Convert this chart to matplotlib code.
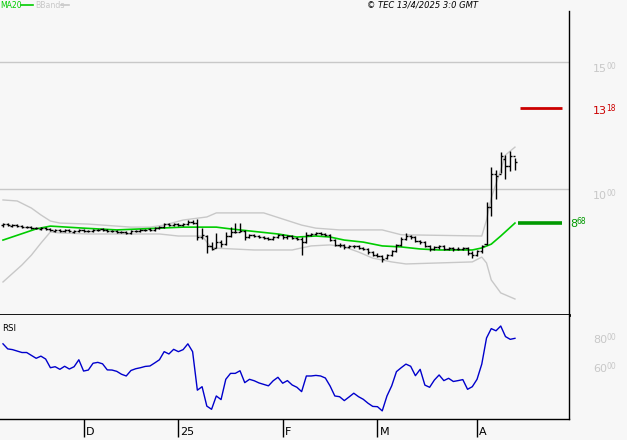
import numpy as np
import matplotlib
matplotlib.use("Agg")
import matplotlib.pyplot as plt
from matplotlib.lines import Line2D

# daily bars (oldest -> newest)
open_ = [858, 864, 856, 860, 856, 852, 850, 848, 844, 848,
         844, 836, 840, 834, 838, 832, 836, 840, 836, 834,
         838, 842, 838, 836, 834, 832, 830, 828, 834, 836,
         838, 842, 840, 846, 852, 862, 858, 864, 860, 864,
         872, 866, 810, 815, 775, 768, 790, 782, 815, 830,
         832, 836, 812, 818, 815, 812, 808, 805, 812, 820,
         810, 815, 808, 805, 790, 820, 822, 826, 824, 820,
         800, 780, 778, 770, 774, 776, 768, 762, 752, 742,
         738, 728, 740, 755, 780, 805, 815, 810, 795, 790,
         775, 762, 770, 775, 765, 768, 762, 765, 766, 750,
         742, 755, 785, 930, 1060, 1060, 1120, 1090, 1130]
high = [868, 868, 864, 864, 860, 856, 854, 852, 852, 852,
        848, 844, 844, 842, 842, 840, 844, 844, 840, 842,
        844, 846, 842, 840, 838, 836, 834, 838, 840, 842,
        844, 846, 850, 856, 866, 866, 868, 868, 868, 878,
        878, 882, 846, 819, 791, 827, 800, 831, 850, 866,
        866, 839, 822, 822, 820, 816, 812, 816, 824, 824,
        820, 820, 812, 810, 830, 826, 830, 832, 828, 824,
        804, 786, 782, 778, 780, 780, 772, 766, 756, 748,
        742, 745, 760, 785, 812, 827, 820, 815, 800, 795,
        780, 775, 780, 780, 772, 772, 770, 770, 770, 755,
        760, 780, 950, 1085, 1075, 1146, 1134, 1150, 1122]
low = [852, 854, 852, 852, 848, 846, 844, 842, 840, 840,
       834, 832, 832, 830, 830, 828, 832, 830, 830, 830,
       834, 834, 830, 830, 828, 826, 824, 824, 830, 832,
       834, 836, 836, 842, 848, 854, 854, 856, 856, 860,
       862, 799, 805, 748, 760, 768, 772, 780, 811, 827,
       831, 799, 808, 810, 808, 804, 800, 800, 808, 804,
       805, 802, 800, 740, 788, 816, 818, 818, 814, 796,
       776, 772, 764, 766, 768, 764, 758, 746, 738, 732,
       713, 724, 736, 752, 775, 800, 805, 790, 785, 770,
       756, 758, 765, 760, 760, 755, 758, 758, 742, 730,
       736, 750, 780, 895, 960, 1063, 1040, 1070, 1075]
close = [862, 858, 860, 856, 852, 850, 848, 846, 848, 844,
         838, 840, 836, 838, 834, 836, 840, 834, 834, 838,
         840, 838, 834, 834, 832, 830, 828, 834, 836, 838,
         840, 840, 846, 852, 862, 858, 864, 860, 864, 872,
         866, 812, 818, 775, 765, 790, 782, 815, 830, 832,
         836, 812, 818, 815, 812, 808, 805, 812, 820, 810,
         815, 808, 805, 790, 820, 822, 826, 824, 820, 800,
         780, 778, 770, 774, 776, 768, 762, 752, 742, 738,
         725, 740, 755, 780, 805, 815, 810, 795, 790, 775,
         762, 770, 775, 765, 768, 762, 765, 766, 750, 742,
         755, 775, 930, 1060, 1050, 1130, 1090, 1130, 1105]

# moving average and bollinger bands, read at these bar numbers
ma_idx = [0, 7, 10, 17, 24, 33, 38, 45, 48, 52, 58, 62, 66, 69, 72, 76,
          80, 84, 88, 92, 99, 101, 103, 105, 108]
ma_vals = [799, 843, 854, 846, 839, 846, 850, 850, 843, 835, 823, 811, 815,
           811, 799, 791, 776, 772, 764, 760, 760, 768, 783, 815, 866]
up_idx = [0, 3, 6, 8, 10, 12, 18, 27, 31, 34, 38, 43, 45, 52, 55, 59, 63,
          66, 71, 80, 84, 101, 102, 103, 105, 106, 108]
up_vals = [957, 953, 925, 898, 874, 866, 862, 850, 850, 858, 878, 890, 906,
           906, 906, 882, 858, 846, 839, 839, 820, 815, 878, 965, 1075, 1134, 1165]
lo_idx = [0, 4, 6, 8, 10, 12, 18, 33, 37, 42, 44, 53, 61, 63, 65, 69, 72,
          75, 78, 82, 85, 99, 101, 102, 103, 105, 108]
lo_vals = [634, 701, 740, 787, 831, 827, 823, 823, 815, 815, 768, 760, 760,
           768, 776, 780, 772, 752, 728, 713, 705, 713, 732, 709, 642, 591, 567]

rsi = [76, 72.5, 72, 71, 70, 70, 68, 66, 67.5, 65.5,
       59.5, 60.2, 58.4, 60.5, 58.6, 60.2, 65, 57.2, 57.9, 62.6,
       63.2, 62.2, 58, 57.9, 57, 55, 53.8, 57.6, 58.8, 59.5,
       60.4, 60.7, 62.8, 65, 70.6, 69, 72.2, 70.6, 72, 76,
       70.6, 44, 46.4, 33, 30.8, 40, 37.5, 51.5, 55.6, 55.6,
       57.4, 49.2, 51.5, 50.5, 49, 48, 47, 50.5, 52.9, 48.8,
       50.6, 47.6, 46, 43, 53.8, 53.8, 54.2, 53.8, 52.4, 46.9,
       40, 39.5, 36.8, 39.3, 41.9, 39.5, 37.7, 35, 32.8, 32.6,
       29.7, 40, 47, 56.8, 59.5, 62, 60.5, 54, 58.4, 47.5,
       46, 51, 54.5, 50.6, 52.2, 50, 50.6, 51.3, 44.6, 46.4,
       51.5, 62, 80, 86.5, 85, 88.3, 81, 79.1, 79.8]

tick_idx = [17, 37, 59, 79, 100]
tick_labels = ["D", "25", "F", "M", "A"]
price_grid = [1000, 1500]
rsi_labels = [80, 60]
target = 1318
ma_last = 868

W, H = 627, 440
BG = "#f7f7f7"
GREY = "#c8c8c8"


def box(x0, y0, x1, y1):
    return [x0 / W, 1 - y1 / H, (x1 - x0) / W, (y1 - y0) / H]


fig = plt.figure(figsize=(W / 100, H / 100), dpi=100, facecolor=BG)
ax = fig.add_axes(box(0, 11, 569, 315), facecolor=BG)
rs = fig.add_axes(box(0, 315, 569, 419), facecolor=BG, sharex=ax)

xs = np.arange(len(close))

# main price panel
for g in price_grid:
    ax.axhline(g, color=GREY, lw=1, zorder=1)
ax.plot(up_idx, up_vals, color=GREY, lw=1, zorder=2)
ax.plot(lo_idx, lo_vals, color=GREY, lw=1, zorder=2)
ax.plot(ma_idx, ma_vals, color="#00cc00", lw=1.2, zorder=3)
ax.vlines(xs, low, high, color="black", lw=1.0, zorder=4)
ax.hlines(open_, xs - 0.45, xs, color="black", lw=1.0, zorder=4)
ax.hlines(close, xs, xs + 0.45, color="black", lw=1.0, zorder=4)
ax.hlines(target, 109.1, 117.9, color="#cc0000", lw=2, zorder=4)
ax.hlines(ma_last, 108.7, 117.9, color="#009900", lw=2.6, zorder=4)

ax.set_xlim(-0.63, 119.4)
ax.set_ylim(504, 1701)


def split_label(a, x, y, ycoords, txt, dx, dy, color, big=8):
    head, tail = txt.split(".")
    a.annotate(head, xy=(x, y), xycoords=("axes fraction", ycoords),
               xytext=(dx, dy), textcoords="offset pixels",
               ha="left", va="baseline", fontsize=big, color=color,
               annotation_clip=False)
    a.annotate(tail, xy=(x, y), xycoords=("axes fraction", ycoords),
               xytext=(dx + 6.6 * len(head), dy + 3), textcoords="offset pixels",
               ha="left", va="baseline", fontsize=5.5, color=color,
               annotation_clip=False)


for g in price_grid:
    split_label(ax, 1, g, "data", f"{g / 100:.2f}", 24, -10, GREY)
split_label(ax, 1, target, "data", f"{target / 100:.2f}", 24, -6, "#cc0000")
split_label(ax, 1, ma_last, "data", f"{ma_last / 100:.2f}", 1, -4, "#009900")

for s in ["top", "left"]:
    ax.spines[s].set_visible(False)
ax.spines["right"].set_linewidth(1)
ax.spines["bottom"].set_linewidth(2)
ax.tick_params(left=False, bottom=False, labelleft=False, labelbottom=False)

# RSI panel
rs.plot(xs, rsi, color="#0000cc", lw=1)
rs.set_ylim(24.1, 95.9)
for v in rsi_labels:
    split_label(rs, 1, v, "data", f"{v:.2f}", 24, -5, GREY)
rs.text(0.004, 0.87, "RSI", transform=rs.transAxes, fontsize=6.2,
        ha="left", va="center")
for s in ["top", "left"]:
    rs.spines[s].set_visible(False)
rs.spines["right"].set_linewidth(1)
rs.spines["bottom"].set_linewidth(1)
rs.set_yticks([])
rs.set_xticks(tick_idx)
rs.tick_params(axis="x", length=13, width=1, direction="out", labelbottom=False)
for i, lab in zip(tick_idx, tick_labels):
    rs.annotate(lab, xy=(i, 0), xycoords=("data", "axes fraction"),
                xytext=(2, -13), textcoords="offset pixels",
                ha="left", va="center", fontsize=8, annotation_clip=False)

# header
fig.text(0 / W, 1 - 5 / H, "MA20", color="#00cc00", fontsize=5.6,
         ha="left", va="center")
fig.add_artist(Line2D([21 / W, 33 / W], [1 - 5 / H, 1 - 5 / H],
                      color="#00cc00", lw=1.2))
fig.text(35 / W, 1 - 5 / H, "BBands", color=GREY, fontsize=5.6,
         ha="left", va="center")
fig.add_artist(Line2D([61 / W, 69 / W], [1 - 5 / H, 1 - 5 / H],
                      color=GREY, lw=1.2))
fig.text(478 / W, 1 - 5 / H, "© TEC 13/4/2025 3:0 GMT", fontsize=6,
         style="italic", ha="right", va="center")

fig.savefig("out.png", dpi=100, facecolor=BG)
